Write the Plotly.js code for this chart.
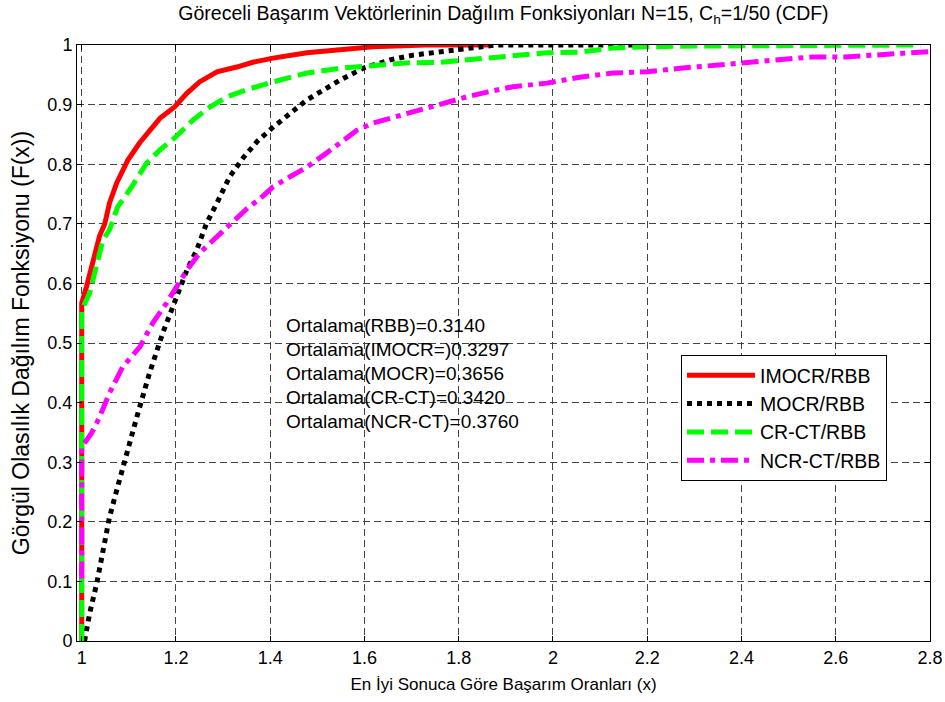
<!DOCTYPE html>
<html>
<head>
<meta charset="utf-8">
<script src="https://cdn.plot.ly/plotly-3.0.1.min.js"></script>
<style>
  html, body { margin: 0; padding: 0; background: #fff; }
  #chart { width: 945px; height: 702px; }
</style>
</head>
<body>
<div id="chart"></div>
<script>
// Empirical CDFs of relative performance ratios (x) for each method
const imocrX = [1, 1, 1.0, 1.01, 1.023, 1.038, 1.049, 1.059, 1.074, 1.098, 1.123, 1.144, 1.166, 1.197, 1.223, 1.25, 1.287, 1.329, 1.363, 1.406, 1.478, 1.548, 1.618, 1.73, 1.87];
const imocrY = [0, 0.55, 0.567, 0.594, 0.634, 0.68, 0.70, 0.735, 0.768, 0.807, 0.836, 0.857, 0.877, 0.896, 0.919, 0.938, 0.955, 0.963, 0.971, 0.978, 0.987, 0.992, 0.997, 1.0, 1.0];

const mocrX = [1.006, 1.01, 1.017, 1.032, 1.045, 1.059, 1.076, 1.091, 1.106, 1.117, 1.144, 1.172, 1.193, 1.223, 1.244, 1.265, 1.287, 1.314, 1.342, 1.372, 1.406, 1.442, 1.478, 1.512, 1.548, 1.597, 1.654, 1.703, 1.76, 1.817, 1.86, 1.88, 2.2];
const mocrY = [0, 0.022, 0.047, 0.097, 0.148, 0.208, 0.258, 0.304, 0.349, 0.376, 0.45, 0.517, 0.56, 0.622, 0.656, 0.701, 0.735, 0.779, 0.81, 0.838, 0.862, 0.886, 0.908, 0.924, 0.941, 0.961, 0.975, 0.983, 0.988, 0.995, 0.998, 1.0, 1.0];

const crctX = [1, 1, 1.0, 1.017, 1.032, 1.045, 1.059, 1.076, 1.106, 1.138, 1.166, 1.197, 1.236, 1.272, 1.308, 1.35, 1.406, 1.478, 1.548, 1.618, 1.69, 1.76, 1.86, 1.915, 1.987, 2.057, 2.127, 2.2, 2.27, 2.5, 2.78];
const crctY = [0, 0.54, 0.555, 0.584, 0.634, 0.673, 0.69, 0.728, 0.762, 0.802, 0.824, 0.844, 0.874, 0.896, 0.913, 0.925, 0.938, 0.953, 0.961, 0.966, 0.97, 0.971, 0.978, 0.983, 0.987, 0.988, 0.995, 0.997, 0.998, 0.999, 1.0];

const ncrctX = [1, 1, 1.006, 1.021, 1.032, 1.038, 1.059, 1.087, 1.123, 1.151, 1.18, 1.202, 1.223, 1.25, 1.287, 1.318, 1.35, 1.378, 1.406, 1.442, 1.478, 1.52, 1.548, 1.584, 1.618, 1.654, 1.69, 1.732, 1.775, 1.817, 1.86, 1.915, 1.987, 2.057, 2.127, 2.2, 2.27, 2.34, 2.41, 2.48, 2.55, 2.62, 2.69, 2.74, 2.8];
const ncrctY = [0.105, 0.325, 0.332, 0.349, 0.366, 0.376, 0.416, 0.46, 0.493, 0.534, 0.567, 0.594, 0.622, 0.651, 0.678, 0.703, 0.725, 0.742, 0.762, 0.779, 0.795, 0.819, 0.836, 0.857, 0.869, 0.877, 0.886, 0.894, 0.904, 0.913, 0.921, 0.93, 0.936, 0.946, 0.953, 0.955, 0.961, 0.966, 0.97, 0.975, 0.98, 0.98, 0.983, 0.987, 0.989];

const seriesNames = ["IMOCR/RBB", "MOCR/RBB", "CR-CT/RBB", "NCR-CT/RBB"];

// Tick positions and labels
const xTickVals = [1, 1.2, 1.4, 1.6, 1.8, 2, 2.2, 2.4, 2.6, 2.8];
const xTickText = ["1", "1.2", "1.4", "1.6", "1.8", "2", "2.2", "2.4", "2.6", "2.8"];
const yTickVals = [0, 0.1, 0.2, 0.3, 0.4, 0.5, 0.6, 0.7, 0.8, 0.9, 1];
const yTickText = ["0", "0.1", "0.2", "0.3", "0.4", "0.5", "0.6", "0.7", "0.8", "0.9", "1"];

// Mean values written inside the plot
const meanLabels = [
  "Ortalama(RBB)=0.3140",
  "Ortalama(IMOCR=)0.3297",
  "Ortalama(MOCR)=0.3656",
  "Ortalama(CR-CT)=0.3420",
  "Ortalama(NCR-CT)=0.3760"
];

const FONT = "Arial, 'Liberation Sans', sans-serif";
const LW = 5;

// plot area in pixels: x 77..930, y 45..641
const PX0 = 77, PW = 853, PY1 = 641, PH = 596;

const traces = [
  { x: imocrX, y: imocrY, name: seriesNames[0], mode: "lines",
    line: { color: "#ff0000", width: LW, dash: "solid" } },
  { x: mocrX, y: mocrY, name: seriesNames[1], mode: "lines",
    line: { color: "#000000", width: LW, dash: "5px,5px" } },
  { x: crctX, y: crctY, name: seriesNames[2], mode: "lines",
    line: { color: "#00ff00", width: LW, dash: "17px,7px" } },
  { x: ncrctX, y: ncrctY, name: seriesNames[3], mode: "lines",
    line: { color: "#ff00ff", width: LW, dash: "17px,6px,5px,6px" } }
];

const annotations = meanLabels.map((t, i) => ({
  text: t, xref: "paper", yref: "paper",
  x: (284 - PX0) / PW, y: (PY1 - (325 + i * 24.2)) / PH,
  xanchor: "left", yanchor: "middle", showarrow: false,
  font: { family: FONT, size: 19, color: "#000" }
}));

const axisCommon = {
  showline: true, linecolor: "#000", linewidth: 1, mirror: "ticks",
  ticks: "inside", ticklen: 5, tickcolor: "#000",
  showgrid: true, gridcolor: "#444", gridwidth: 1, griddash: "7px,4px",
  zeroline: false, tickmode: "array",
  tickfont: { family: FONT, size: 18, color: "#000" }
};

const layout = {
  width: 945, height: 702,
  margin: { l: PX0, r: 945 - PX0 - PW, t: 45, b: 702 - PY1 },
  paper_bgcolor: "#fff", plot_bgcolor: "#fff",
  font: { family: FONT, color: "#000" },
  title: {
    text: "Göreceli Başarım Vektörlerinin Dağılım Fonksiyonları N=15, C<sub>h</sub>=1/50 (CDF)",
    font: { family: FONT, size: 19.5, color: "#000" },
    x: 0.5, xref: "paper", y: 1 - 13 / 702, yref: "container", yanchor: "middle"
  },
  xaxis: Object.assign({}, axisCommon, {
    range: [0.99, 2.8], tickvals: xTickVals, ticktext: xTickText,
    title: { text: "En İyi Sonuca Göre Başarım Oranları (x)", font: { family: FONT, size: 17, color: "#000" }, standoff: 11 }
  }),
  yaxis: Object.assign({}, axisCommon, {
    range: [0, 1], tickvals: yTickVals, ticktext: yTickText,
    title: { text: "Görgül Olasılık Dağılım Fonksiyonu (F(x))", font: { family: FONT, size: 23, color: "#000" }, standoff: 11 }
  }),
  showlegend: true,
  legend: {
    x: (681 - PX0) / PW, y: (PY1 - 355) / PH, xanchor: "left", yanchor: "top",
    bgcolor: "#fff", bordercolor: "#000", borderwidth: 1,
    itemwidth: 68,
    font: { family: FONT, size: 19.5, color: "#000" }
  },
  annotations: annotations
};

Plotly.newPlot("chart", traces, layout, { displayModeBar: false, staticPlot: true });
</script>
</body>
</html>
